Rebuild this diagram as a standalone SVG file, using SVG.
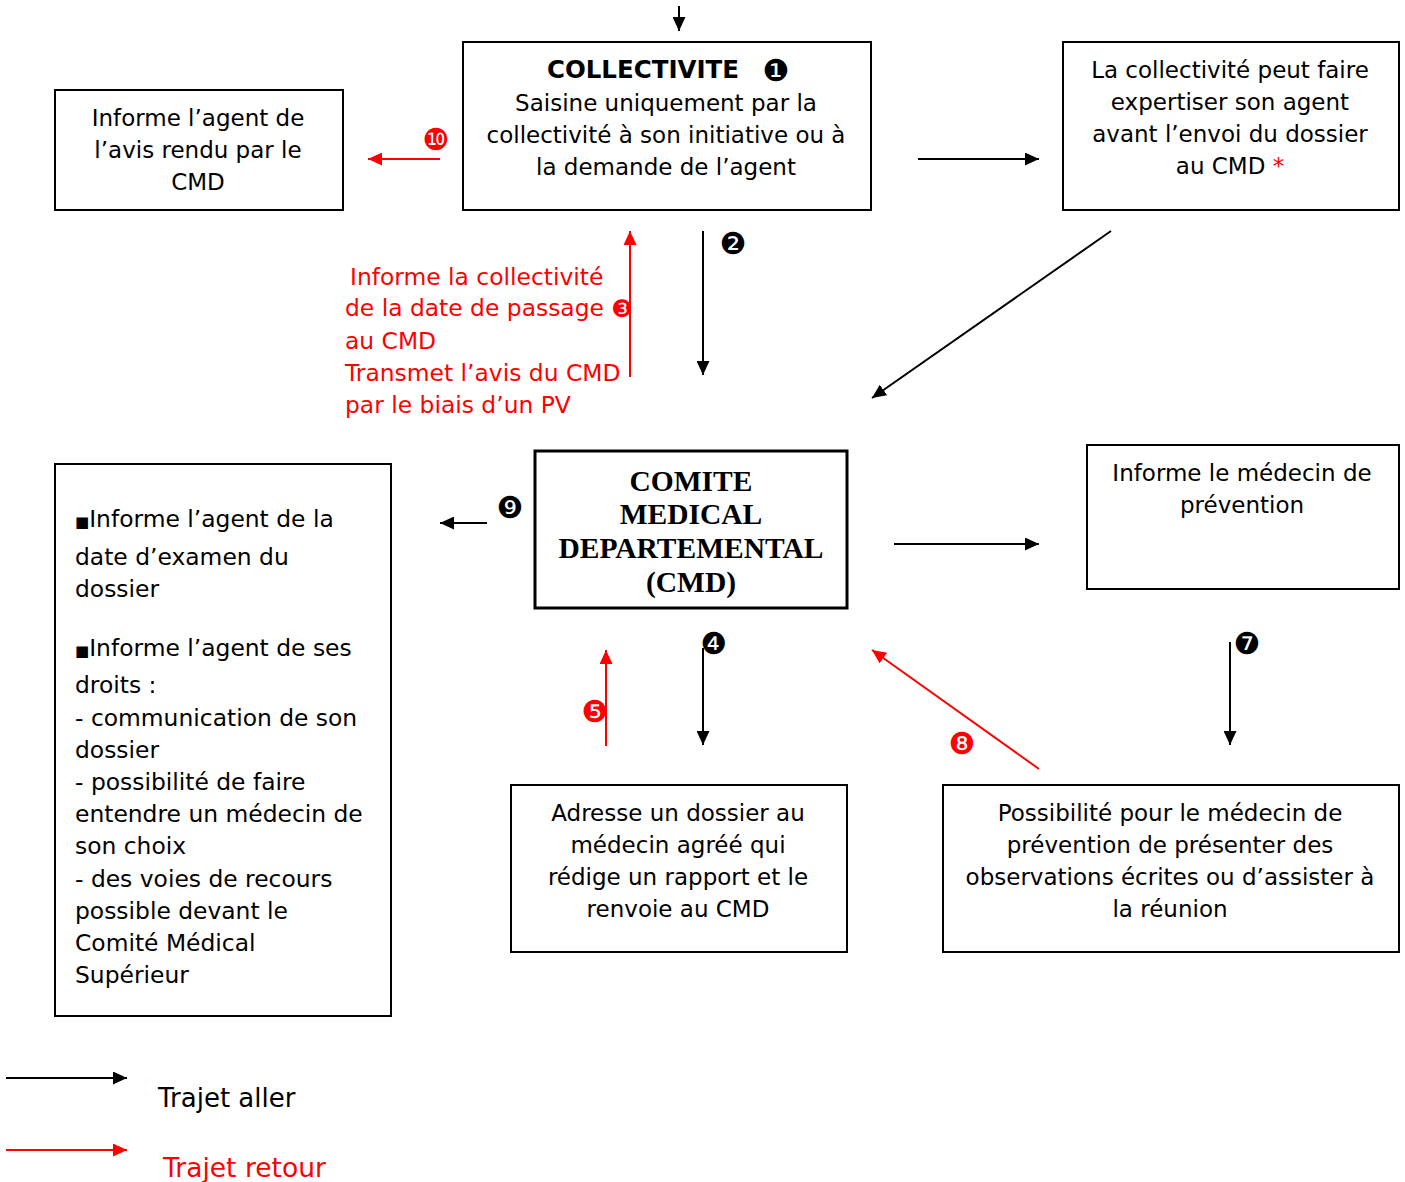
<svg xmlns="http://www.w3.org/2000/svg" width="1405" height="1182" viewBox="0 0 1405 1182">
<style>
.box{fill:#fff;stroke:#000;stroke-width:2}
.t{font-family:"DejaVu Sans","Verdana",sans-serif;font-size:23px;fill:#000}
.c{text-anchor:middle}
.r{fill:#ff0000}
.serif{font-family:"Liberation Serif","Times New Roman",serif;font-weight:bold;font-size:29.5px;text-anchor:middle}
.num{font-family:"DejaVu Sans",sans-serif;font-size:30px;text-anchor:middle}
.blk{stroke:#000;stroke-width:2;fill:none}
.red{stroke:#ff0000;stroke-width:2;fill:none}
</style>
<defs>
<marker id="ab" markerUnits="userSpaceOnUse" markerWidth="15" markerHeight="13" refX="14" refY="6.5" orient="auto" viewBox="0 0 15 13"><path d="M0,0 L14,6.5 L0,13 z" fill="#000"/></marker>
<marker id="ar" markerUnits="userSpaceOnUse" markerWidth="15" markerHeight="13" refX="14" refY="6.5" orient="auto" viewBox="0 0 15 13"><path d="M0,0 L14,6.5 L0,13 z" fill="#ff0000"/></marker>
</defs>
<rect width="1405" height="1182" fill="#fff"/>

<g id="collectivite">
<rect class="box" x="463" y="42" width="408" height="168"/>
<text class="t c" x="643" y="78" style="font-weight:bold;font-size:24.5px">COLLECTIVITE</text>
<text class="num" x="776" y="80.5">❶</text>
<text class="t c" x="666" y="111">Saisine uniquement par la</text>
<text class="t c" x="666" y="143">collectivité à son initiative ou à</text>
<text class="t c" x="666" y="175">la demande de l’agent</text>
</g>

<g id="informe-avis">
<rect class="box" x="55" y="90" width="288" height="120"/>
<text class="t c" x="198" y="126">Informe l’agent de</text>
<text class="t c" x="198" y="158">l’avis rendu par le</text>
<text class="t c" x="198" y="190">CMD</text>
</g>

<g id="expertise">
<rect class="box" x="1063" y="42" width="336" height="168"/>
<text class="t c" x="1230" y="78">La collectivité peut faire</text>
<text class="t c" x="1230" y="110">expertiser son agent</text>
<text class="t c" x="1230" y="142">avant l’envoi du dossier</text>
<text class="t c" x="1230" y="174">au CMD <tspan class="r">*</tspan></text>
</g>

<g id="info-red" class="t r" style="font-size:23.4px">
<text x="350" y="285">Informe la collectivité</text>
<text x="345" y="316">de la date de passage</text>
<text x="345" y="349">au CMD</text>
<text x="345" y="381">Transmet l’avis du CMD</text>
<text x="345" y="413">par le biais d’un PV</text>
</g>

<g id="cmd">
<rect x="535" y="451" width="312" height="157" fill="#fff" stroke="#000" stroke-width="3"/>
<text class="serif" x="691" y="491">COMITE</text>
<text class="serif" x="691" y="524">MEDICAL</text>
<text class="serif" x="691" y="558">DEPARTEMENTAL</text>
<text class="serif" x="691" y="592">(CMD)</text>
</g>

<g id="medecin-prevention">
<rect class="box" x="1087" y="445" width="312" height="144"/>
<text class="t c" x="1242" y="481">Informe le médecin de</text>
<text class="t c" x="1242" y="513">prévention</text>
</g>

<g id="informe-agent">
<rect class="box" x="55" y="464" width="336" height="552"/>
<g class="t" style="font-size:23.4px">
<text x="75" y="527"><tspan style="font-size:15px">■</tspan>Informe l’agent de la</text>
<text x="75" y="565">date d’examen du</text>
<text x="75" y="597">dossier</text>
<text x="75" y="656"><tspan style="font-size:15px">■</tspan>Informe l’agent de ses</text>
<text x="75" y="693">droits :</text>
<text x="75" y="726">- communication de son</text>
<text x="75" y="758">dossier</text>
<text x="75" y="790">- possibilité de faire</text>
<text x="75" y="822">entendre un médecin de</text>
<text x="75" y="854">son choix</text>
<text x="75" y="887">- des voies de recours</text>
<text x="75" y="919">possible devant le</text>
<text x="75" y="951">Comité Médical</text>
<text x="75" y="983">Supérieur</text>
</g>
</g>

<g id="adresse-dossier">
<rect class="box" x="511" y="785" width="336" height="167"/>
<text class="t c" x="678" y="821">Adresse un dossier au</text>
<text class="t c" x="678" y="853">médecin agréé qui</text>
<text class="t c" x="678" y="885">rédige un rapport et le</text>
<text class="t c" x="678" y="917">renvoie au CMD</text>
</g>

<g id="possibilite">
<rect class="box" x="943" y="785" width="456" height="167"/>
<text class="t c" x="1170" y="821">Possibilité pour le médecin de</text>
<text class="t c" x="1170" y="853">prévention de présenter des</text>
<text class="t c" x="1170" y="885">observations écrites ou d’assister à</text>
<text class="t c" x="1170" y="917">la réunion</text>
</g>

<g id="connectors">
<line class="blk" x1="679" y1="6" x2="679" y2="31" marker-end="url(#ab)"/>
<line class="red" x1="440" y1="159" x2="368" y2="159" marker-end="url(#ar)"/>
<text class="num r" x="436" y="149.5">❿</text>
<line class="blk" x1="918" y1="159" x2="1039" y2="159" marker-end="url(#ab)"/>
<line class="blk" x1="703" y1="231" x2="703" y2="375" marker-end="url(#ab)"/>
<text class="num" x="733" y="253.5">❷</text>
<line class="red" x1="630" y1="377" x2="630" y2="231" marker-end="url(#ar)"/>
<text class="num r" x="622" y="316.5" style="font-size:24px">❸</text>
<line class="blk" x1="1111" y1="231" x2="872" y2="398" marker-end="url(#ab)"/>
<line class="blk" x1="487" y1="523" x2="440" y2="523" marker-end="url(#ab)"/>
<text class="num" x="510" y="517.5">❾</text>
<line class="blk" x1="894" y1="544" x2="1039" y2="544" marker-end="url(#ab)"/>
<line class="blk" x1="703" y1="648" x2="703" y2="745" marker-end="url(#ab)"/>
<text class="num" x="714" y="653.5">❹</text>
<line class="red" x1="606" y1="746" x2="606" y2="650" marker-end="url(#ar)"/>
<text class="num r" x="595" y="721.5">❺</text>
<line class="red" x1="1039" y1="769" x2="872" y2="650" marker-end="url(#ar)"/>
<text class="num r" x="962" y="753.5">❽</text>
<line class="blk" x1="1230" y1="642" x2="1230" y2="745" marker-end="url(#ab)"/>
<text class="num" x="1247" y="653.5">❼</text>
<line class="blk" x1="6" y1="1078" x2="127" y2="1078" marker-end="url(#ab)"/>
<line class="red" x1="6" y1="1150" x2="127" y2="1150" marker-end="url(#ar)"/>
</g>

<g id="legend">
<text class="t" x="158" y="1107" style="font-size:26px">Trajet aller</text>
<text class="t r" x="163" y="1177" style="font-size:26.5px">Trajet retour</text>
</g>
</svg>
